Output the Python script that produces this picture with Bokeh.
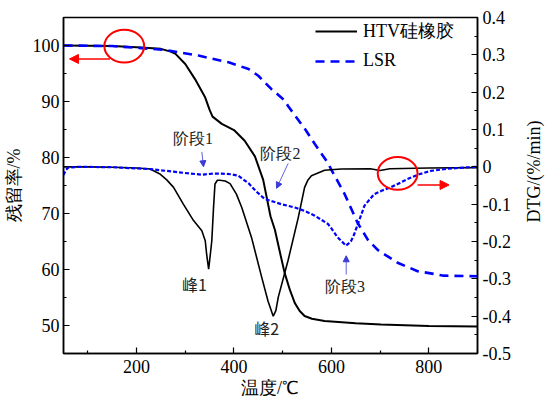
import math
from bokeh.plotting import figure
from bokeh.layouts import row
from bokeh.models import (Range1d, LinearAxis, FixedTicker, Legend, LegendItem,
                          Label, Arrow, NormalHead, CustomJSTickFormatter)
from bokeh.embed import file_html
from bokeh.resources import INLINE

# ---------------- data ----------------
htv_tg_x = [50, 150, 200, 250, 270, 280, 300, 320, 341, 350, 356, 375, 400, 422, 443,
            460, 475, 484, 494, 504, 515, 525, 535, 545, 560, 586, 650, 702, 800, 900]
htv_tg_y = [100.0, 99.9, 99.7, 99.4, 98.9, 98.5, 96.7, 94.0, 90.7, 88.5, 87.3, 86.0, 84.9,
            83.0, 80.2, 76.0, 69.5, 67.1, 63.2, 59.4, 56.3, 54.0, 52.6, 51.7, 51.2, 50.8,
            50.4, 50.2, 49.9, 49.8]

htv_dtg_x = [50, 100, 150, 200, 228, 249, 262, 276, 296, 317, 334, 341, 344, 348, 351,
             354.5, 358, 361, 366, 371, 382, 392, 405, 416, 436, 457, 470, 480.6, 486, 491,
             511, 532, 545, 552, 559, 586, 620, 680, 700, 720, 800, 900]
htv_dtg_y = [0.0, 0.0, -0.001, -0.003, -0.006, -0.020, -0.035, -0.055, -0.100, -0.144,
             -0.171, -0.198, -0.235, -0.274, -0.240, -0.198, -0.110, -0.046, -0.036, -0.036,
             -0.038, -0.045, -0.073, -0.109, -0.189, -0.296, -0.360, -0.400, -0.385, -0.349,
             -0.251, -0.136, -0.055, -0.035, -0.024, -0.009, -0.006, -0.005, -0.010, -0.005,
             -0.003, -0.002]

lsr_tg_x = [50, 150, 200, 259, 327, 389, 430, 450, 477, 504, 511, 538, 545, 566, 593, 600,
            627, 654, 675, 695, 736, 777, 831, 900]
lsr_tg_y = [100.0, 99.9, 99.6, 99.2, 98.2, 97.0, 95.8, 94.6, 92.2, 90.2, 89.2, 86.0, 85.2,
            82.4, 79.0, 77.8, 73.5, 68.3, 65.3, 63.5, 61.2, 59.7, 58.9, 58.8]

lsr_dtg_x = [50, 55, 60, 80, 150, 228, 276, 310, 334, 341, 358, 375, 395, 409, 430, 445,
             463, 480, 497, 525, 545, 566, 593, 600, 613, 630, 640, 647, 658, 668, 688, 705,
             722, 756, 780, 804, 840, 872, 900]
lsr_dtg_y = [-0.022, -0.008, -0.002, 0.0, -0.001, -0.006, -0.013, -0.018, -0.021, -0.020,
             -0.018, -0.018, -0.020, -0.024, -0.044, -0.065, -0.086, -0.093, -0.100, -0.109,
             -0.118, -0.131, -0.153, -0.165, -0.189, -0.211, -0.200, -0.180, -0.140, -0.104,
             -0.073, -0.063, -0.055, -0.033, -0.020, -0.011, -0.005, -0.002, 0.0]

x_major = [200, 400, 600, 800]
x_minor = [100, 300, 500, 700, 900]
tg_major = [50, 60, 70, 80, 90, 100]
tg_minor = [45, 55, 65, 75, 85, 95, 105]
dtg_major = [-0.5, -0.4, -0.3, -0.2, -0.1, 0.0, 0.1, 0.2, 0.3, 0.4]
dtg_minor = [-0.45, -0.35, -0.25, -0.15, -0.05, 0.05, 0.15, 0.25, 0.35]

# ---------------- figure ----------------
SERIF = "Liberation Serif"
CJK = "Noto Sans CJK SC"
TICK_SIZE = "18px"

p = figure(width=517, height=404, x_range=Range1d(50, 900), y_range=Range1d(45, 105),
           output_backend="svg", toolbar_location=None,
           min_border_left=61, min_border_right=40, min_border_top=17, min_border_bottom=51)
p.extra_y_ranges = {"dtg": Range1d(-0.5, 0.4)}
p.xgrid.visible = False
p.ygrid.visible = False
p.outline_line_color = "black"
p.outline_line_width = 1.5
p.background_fill_color = "white"
p.border_fill_color = "white"


def style_axis(ax, standoff, label_standoff):
    ax.axis_line_width = 1.5
    ax.axis_line_color = "black"
    ax.major_tick_in = 6
    ax.major_tick_out = 0
    ax.minor_tick_in = 3
    ax.minor_tick_out = 0
    ax.major_tick_line_width = 1.2
    ax.minor_tick_line_width = 1.2
    ax.major_label_text_font = SERIF
    ax.major_label_text_font_size = TICK_SIZE
    ax.major_label_text_color = "black"
    ax.major_label_standoff = standoff
    ax.axis_label_text_font = SERIF
    ax.axis_label_text_font_size = "18px"
    ax.axis_label_text_font_style = "normal"
    ax.axis_label_text_color = "black"
    ax.axis_label_standoff = label_standoff


xa = p.xaxis[0]
xa.ticker = FixedTicker(ticks=x_major, minor_ticks=x_minor)
xa.axis_label = "温度/℃"
style_axis(xa, 6, 2)

ya = p.yaxis[0]
ya.ticker = FixedTicker(ticks=tg_major, minor_ticks=tg_minor)
ya.axis_label = "残留率/%"
style_axis(ya, 4, 6)

ra = LinearAxis(y_range_name="dtg")
ra.ticker = FixedTicker(ticks=dtg_major, minor_ticks=dtg_minor)
ra.formatter = CustomJSTickFormatter(
    code="return Math.abs(tick) < 1e-9 ? '0' : tick.toFixed(1);")
style_axis(ra, 5, 8)
p.add_layout(ra, "right")

# ---------------- curves ----------------
r_htv = p.line(htv_tg_x, htv_tg_y, line_color="black", line_width=2)
r_lsr = p.line(lsr_tg_x, lsr_tg_y, line_color="#0000ff", line_width=2.6, line_dash="9 6")
p.line(htv_dtg_x, htv_dtg_y, y_range_name="dtg", line_color="black", line_width=1.6)
p.line(lsr_dtg_x, lsr_dtg_y, y_range_name="dtg", line_color="#0000ff", line_width=2.2,
       line_dash="4 2")

# ---------------- legend ----------------
legend = Legend(items=[LegendItem(label="HTV硅橡胶", renderers=[r_htv]),
                       LegendItem(label="LSR", renderers=[r_lsr])],
                location=(248, 278), orientation="vertical")
legend.border_line_alpha = 0
legend.background_fill_alpha = 0
legend.padding = 4
legend.margin = 0
legend.spacing = 7
legend.glyph_width = 42
legend.glyph_height = 20
legend.label_height = 20
legend.label_standoff = 6
legend.label_text_font = SERIF
legend.label_text_font_size = "18px"
legend.label_text_color = "black"
p.add_layout(legend)

# ---------------- annotations ----------------
RED = "#ff0000"
p.ellipse(x=[174.7], y=[99.9], width=[81.7], height=[5.87], fill_alpha=0,
          line_color=RED, line_width=2)
p.ellipse(x=[736], y=[-0.0174], width=[81.7], height=[0.088], fill_alpha=0,
          line_color=RED, line_width=2, y_range_name="dtg")
p.add_layout(Arrow(end=NormalHead(size=9, fill_color=RED, line_color=RED),
                   x_start=145.4, y_start=97.6, x_end=62.3, y_end=97.6,
                   line_color=RED, line_width=1.6))
p.add_layout(Arrow(end=NormalHead(size=9, fill_color=RED, line_color=RED),
                   x_start=777, y_start=75.1, x_end=841.6, y_end=75.1,
                   line_color=RED, line_width=1.6))

ARROW_BLUE = "#3b3bd6"
for (xs, ys, xe, ye) in [(334, 81.0, 337.5, 78.35), (511.3, 78.95, 487.4, 74.5),
                         (630.4, 59.1, 630.4, 62.45)]:
    p.add_layout(Arrow(end=NormalHead(size=6, fill_color=ARROW_BLUE, line_color=ARROW_BLUE),
                       x_start=xs, y_start=ys, x_end=xe, y_end=ye,
                       line_color=ARROW_BLUE, line_width=0.8))

for (tx, ty, txt, fnt) in [(315.7, 83.45, "阶段1", SERIF), (495.5, 80.8, "阶段2", SERIF),
                           (318.7, 57.5, "峰1", CJK), (467, 49.5, "峰2", CJK),
                           (628, 56.9, "阶段3", SERIF)]:
    p.add_layout(Label(x=tx, y=ty, text=txt, text_align="center", text_baseline="middle",
                       text_font=fnt, text_font_size="16px", text_color="#222222"))

# ---------------- right-hand title strip (text reads bottom-to-top) ----------------
t = figure(width=31, height=404, x_range=Range1d(0, 1), y_range=Range1d(0, 1),
           output_backend="svg", toolbar_location=None,
           x_axis_location=None, y_axis_location=None, min_border=0)
t.xgrid.visible = False
t.ygrid.visible = False
t.outline_line_color = None
t.background_fill_color = "white"
t.border_fill_color = "white"
t.add_layout(Label(x=0.52, y=0.542, text="DTG/(%/min)", angle=math.pi / 2,
                   text_align="center", text_baseline="middle", text_font=SERIF,
                   text_font_size="18px", text_color="black"))

layout = row(p, t, spacing=0)
open("out.html", "w").write(file_html(layout, INLINE))
